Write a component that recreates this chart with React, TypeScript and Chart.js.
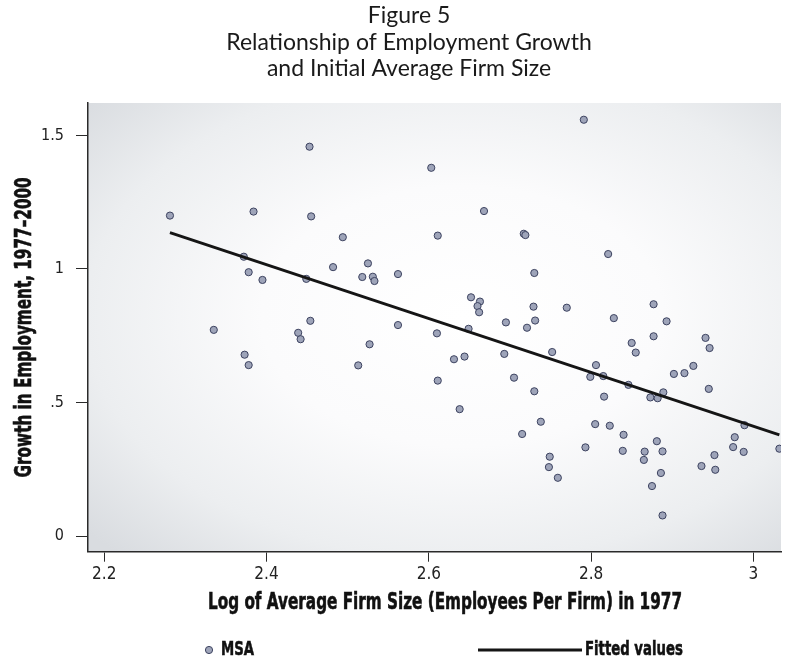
import React, { useEffect, useRef } from "react";
import { Chart, registerables } from "chart.js";

Chart.register(...registerables);

const TITLE_LINES = ["Figure 5", "Relationship of Employment Growth", "and Initial Average Firm Size"];
const X_AXIS_TITLE = "Log of Average Firm Size (Employees Per Firm) in 1977";
const Y_AXIS_TITLE = "Growth in Employment, 1977\u20132000";
const SERIES_POINTS = "MSA";
const SERIES_FIT = "Fitted values";

const X_TICKS = [2.2, 2.4, 2.6, 2.8, 3];
const X_TICK_LABELS = ["2.2", "2.4", "2.6", "2.8", "3"];
const Y_TICKS = [0, 0.5, 1, 1.5];
const Y_TICK_LABELS = ["0", ".5", "1", "1.5"];

const MSA_X = [
  2.453, 2.603, 2.281, 2.384, 2.455, 2.494, 2.611, 2.372, 2.378, 2.395,
  2.449, 2.482, 2.525, 2.518, 2.531, 2.533, 2.562, 2.454, 2.562, 2.335,
  2.439, 2.442, 2.61, 2.373, 2.378, 2.527, 2.513, 2.611, 2.791, 2.668,
  2.717, 2.719, 2.821, 2.73, 2.652, 2.663, 2.66, 2.662, 2.729, 2.77,
  2.877, 2.695, 2.731, 2.828, 2.893, 2.721, 2.649, 2.631, 2.644, 2.693,
  2.752, 2.85, 2.855, 2.877, 2.941, 2.946, 2.705, 2.73, 2.638, 2.738,
  2.715, 2.806, 2.799, 2.815, 2.816, 2.846, 2.873, 2.882, 2.889, 2.902,
  2.915, 2.926, 2.945, 2.989, 2.805, 2.823, 2.84, 2.793, 2.839, 2.866,
  2.865, 2.881, 2.888, 2.886, 2.875, 2.888, 2.749, 2.748, 2.759, 2.977,
  2.975, 2.988, 2.952, 2.936, 2.953, 3.032,
];
const MSA_Y = [
  1.458, 1.379, 1.2, 1.215, 1.197, 1.119, 1.125, 1.046, 0.988, 0.959,
  0.963, 1.007, 1.021, 0.97, 0.971, 0.955, 0.981, 0.806, 0.79, 0.772,
  0.761, 0.737, 0.759, 0.679, 0.64, 0.718, 0.639, 0.582, 1.559, 1.217,
  1.132, 1.127, 1.056, 0.985, 0.894, 0.878, 0.861, 0.838, 0.859, 0.855,
  0.868, 0.8, 0.807, 0.816, 0.804, 0.78, 0.776, 0.662, 0.672, 0.682,
  0.689, 0.723, 0.687, 0.748, 0.742, 0.704, 0.593, 0.542, 0.475, 0.428,
  0.382, 0.64, 0.596, 0.599, 0.522, 0.566, 0.519, 0.516, 0.538, 0.607,
  0.61, 0.637, 0.551, 0.415, 0.419, 0.413, 0.379, 0.332, 0.319, 0.316,
  0.285, 0.355, 0.317, 0.236, 0.187, 0.077, 0.297, 0.258, 0.218, 0.37,
  0.333, 0.315, 0.303, 0.262, 0.248, 0.327,
];

const FIT_X = [2.281, 3.032];
const FIT_Y = [1.136, 0.379];

const NARROW = "'DejaVu Sans Condensed', 'Liberation Sans Narrow', sans-serif";
const HEAVY = "'DejaVu Sans', 'Liberation Sans', sans-serif";
const POINT_FILL = "#9ea4b9";
const POINT_EDGE = "#3d4360";
const AXIS_COLOR = "#2a2a2a";

// draws text squeezed horizontally (condensed look), lightly stroked for weight
function squeezedText(ctx: any, text: string, x: number, y: number, sx: number, rot: number, align: string) {
  ctx.save();
  ctx.translate(x, y);
  ctx.rotate(rot);
  ctx.scale(sx, 1);
  ctx.textAlign = align;
  ctx.textBaseline = "middle";
  ctx.fillText(text, 0, 0);
  ctx.lineWidth = 0.6;
  ctx.strokeStyle = ctx.fillStyle;
  ctx.strokeText(text, 0, 0);
  ctx.restore();
}

const backgroundPlugin = {
  id: "plotBackground",
  beforeDraw(chart: any) {
    const { ctx, chartArea } = chart;
    if (!chartArea) return;
    const { left, top, right, bottom } = chartArea;
    ctx.save();
    ctx.fillStyle = "#ffffff";
    ctx.fillRect(0, 0, chart.width, chart.height);
    const cx = (left + right) / 2;
    const cy = (top + bottom) / 2;
    const rx = (right - left) / 2;
    const ry = (bottom - top) / 2;
    ctx.beginPath();
    ctx.rect(left, top, right - left, bottom - top);
    ctx.clip();
    ctx.translate(cx, cy);
    ctx.scale(rx, ry);
    const g = ctx.createRadialGradient(0.08, -0.05, 0, 0.08, -0.05, 1.45);
    g.addColorStop(0, "#ffffff");
    g.addColorStop(0.4, "#fbfbfc");
    g.addColorStop(0.75, "#eceef0");
    g.addColorStop(1, "#d9dce0");
    ctx.fillStyle = g;
    ctx.fillRect(-1.2, -1.2, 2.4, 2.4);
    ctx.restore();
  },
};

const textPlugin = {
  id: "figureText",
  afterDraw(chart: any) {
    const { ctx, chartArea } = chart;
    ctx.save();
    // figure title
    ctx.fillStyle = "#1a1a1a";
    ctx.font = "23px Lato, 'Open Sans', sans-serif";
    ctx.textAlign = "center";
    ctx.textBaseline = "middle";
    TITLE_LINES.forEach((line, i) => {
      ctx.fillText(line, 409, 16 + i * 26.5);
    });

    // axis titles in a heavy condensed face
    ctx.fillStyle = "#111111";
    ctx.font = `bold 23px ${HEAVY}`;
    const sx = 474 / ctx.measureText(X_AXIS_TITLE).width;
    squeezedText(ctx, X_AXIS_TITLE, 445, 603, sx, 0, "center");
    squeezedText(ctx, Y_AXIS_TITLE, 25, (chartArea.top + chartArea.bottom) / 2, sx, -Math.PI / 2, "center");

    // legend
    const y = 650;
    ctx.beginPath();
    ctx.arc(209, y, 3.6, 0, Math.PI * 2);
    ctx.fillStyle = POINT_FILL;
    ctx.fill();
    ctx.lineWidth = 1;
    ctx.strokeStyle = POINT_EDGE;
    ctx.stroke();
    ctx.fillStyle = "#111111";
    ctx.font = `bold 20px ${HEAVY}`;
    squeezedText(ctx, SERIES_POINTS, 221, y, sx, 0, "left");
    ctx.beginPath();
    ctx.moveTo(478, y);
    ctx.lineTo(582, y);
    ctx.lineWidth = 2.8;
    ctx.strokeStyle = "#151515";
    ctx.stroke();
    squeezedText(ctx, SERIES_FIT, 585, y, sx, 0, "left");
    ctx.restore();
  },
};

export default function App() {
  const canvasRef = useRef<HTMLCanvasElement | null>(null);

  useEffect(() => {
    if (!canvasRef.current) return;
    const points = MSA_X.map((x, i) => ({ x, y: MSA_Y[i] }));
    const fit = FIT_X.map((x, i) => ({ x, y: FIT_Y[i] }));

    const chart = new Chart(canvasRef.current, {
      type: "scatter",
      data: {
        datasets: [
          {
            label: SERIES_POINTS,
            data: points,
            backgroundColor: POINT_FILL,
            borderColor: POINT_EDGE,
            borderWidth: 1,
            pointRadius: 3.6,
            order: 2,
          },
          {
            type: "line",
            label: SERIES_FIT,
            data: fit,
            borderColor: "#151515",
            borderWidth: 2.8,
            pointRadius: 0,
            showLine: true,
            fill: false,
            order: 1,
          } as any,
        ],
      },
      options: {
        animation: false,
        responsive: false,
        devicePixelRatio: 1,
        layout: { padding: { left: 0, right: 3, top: 103, bottom: 38.3 } },
        plugins: {
          legend: { display: false },
          title: { display: false },
          tooltip: { enabled: false },
        },
        scales: {
          x: {
            type: "linear",
            min: 2.18,
            max: 3.034,
            afterBuildTicks: (s: any) => {
              s.ticks = X_TICKS.map((v) => ({ value: v }));
            },
            afterFit: (s: any) => {
              s.height = 70;
            },
            ticks: {
              autoSkip: false,
              maxRotation: 0,
              padding: 3,
              color: "#222",
              font: { family: NARROW, size: 17 },
              callback: (v: any) => X_TICK_LABELS[X_TICKS.indexOf(Number(v))],
            },
            grid: { drawOnChartArea: false, drawTicks: true, tickLength: 10, color: AXIS_COLOR, lineWidth: 1 },
            border: { display: true, color: AXIS_COLOR, width: 1.5 },
            title: { display: false, text: X_AXIS_TITLE },
          },
          y: {
            type: "linear",
            min: -0.0588,
            max: 1.6217,
            afterBuildTicks: (s: any) => {
              s.ticks = Y_TICKS.map((v) => ({ value: v }));
            },
            afterFit: (s: any) => {
              s.width = 88;
            },
            ticks: {
              autoSkip: false,
              padding: 12,
              color: "#222",
              font: { family: NARROW, size: 16 },
              callback: (v: any) => Y_TICK_LABELS[Y_TICKS.indexOf(Number(v))],
            },
            grid: { drawOnChartArea: false, drawTicks: true, tickLength: 12, color: AXIS_COLOR, lineWidth: 1 },
            border: { display: true, color: AXIS_COLOR, width: 1.5 },
            title: { display: false, text: Y_AXIS_TITLE },
          },
        },
      } as any,
      plugins: [backgroundPlugin, textPlugin],
    });

    return () => {
      chart.destroy();
    };
  }, []);

  return (
    <div style={{ position: "absolute", left: 0, top: 0, width: 786, height: 660, background: "#fff" }}>
      <canvas ref={canvasRef} width={786} height={660} style={{ display: "block", width: 786, height: 660 }} />
    </div>
  );
}
